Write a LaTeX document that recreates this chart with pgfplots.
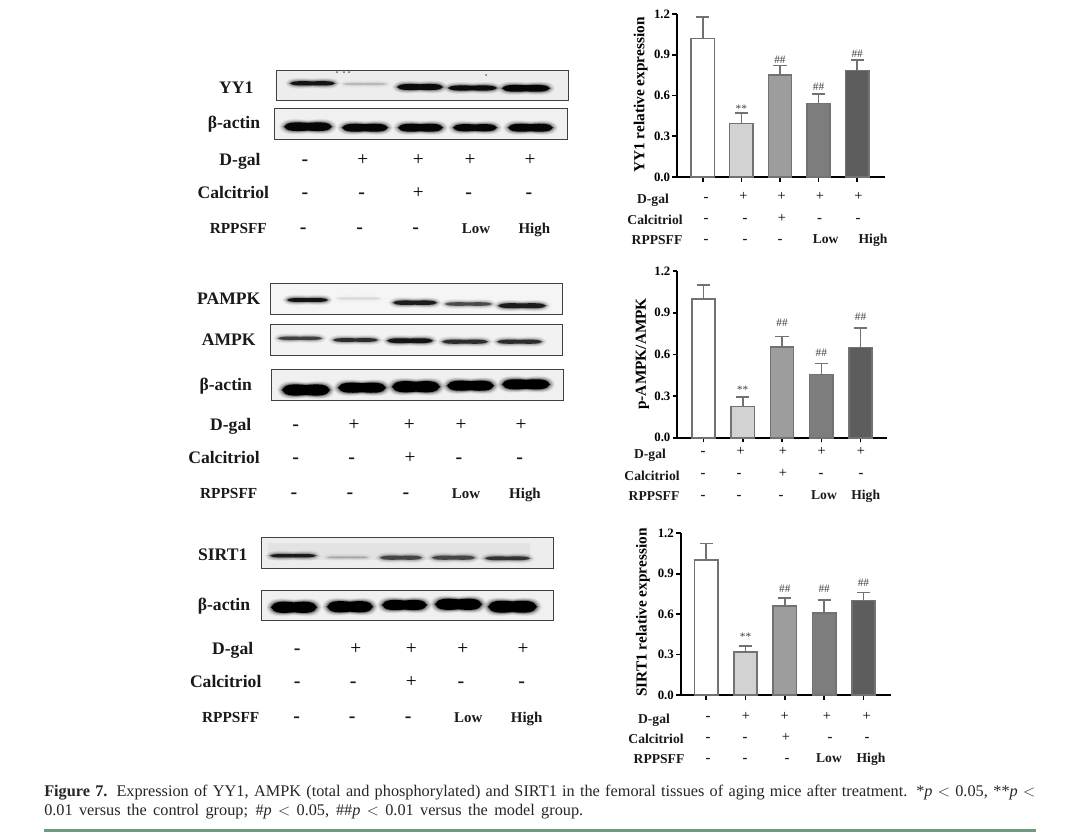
\documentclass[border=0pt]{standalone}
\usepackage{pgfplots}
\pgfplotsset{compat=1.18}
\usepackage{fontspec}
\setmainfont{Liberation Serif}

\definecolor{barline}{HTML}{727272}
\definecolor{gA}{HTML}{FFFFFF}
\definecolor{gB}{HTML}{D2D2D2}
\definecolor{gC}{HTML}{9D9D9D}
\definecolor{gD}{HTML}{7D7D7D}
\definecolor{gE}{HTML}{5D5D5D}
\definecolor{rulegreen}{HTML}{6F9A7F}

\newcommand{\fs}[1]{\fontsize{#1}{#1}\selectfont}

% one bar with its upper error bar
\newcommand{\gbar}[4]{%
  \addplot[ybar, bar width=17.5pt, bar shift=0pt, fill=#1, draw=barline, line width=1.2pt,
    error bars/.cd, y dir=plus, y explicit,
    error bar style={draw=barline, line width=1.2pt},
    error mark options={rotate=90, mark size=4.9pt, draw=barline, line width=1.2pt}]
    coordinates {(#2,#3) +- (0,#4)};}

\pgfplotsset{gelbars/.style={
    scale only axis, width=156pt,
    ymin=0, ymax=1.2, ytick={0,0.3,0.6,0.9,1.2},
    xtick={0,1,2,3,4}, xticklabels={},
    axis x line=bottom, axis y line=left,
    axis line style={-, line width=1.4pt},
    tick align=outside, major tick length=3.5pt,
    tick style={black, line width=1.2pt},
    clip=false,
    yticklabel style={font=\fs{9.6}\bfseries, inner sep=1.5pt,
      /pgf/number format/fixed, /pgf/number format/fixed zerofill, /pgf/number format/precision=1,
      /pgf/number format/assume math mode=true},
  },
  ylab/.style 2 args={every axis y label/.style={at={(axis description cs:#1,#2)}, rotate=90, anchor=center, font=\fs{11.5}\bfseries}},
}

% western blot band: x1 x2 y halfheight opacity
\newcommand{\band}[5]{%
  \foreach \e/\op in {5/0.05,4/0.07,3/0.10,2/0.15,1/0.25,0/1}{%
    \pgfmathsetmacro{\xa}{#1-\e}
    \pgfmathsetmacro{\xb}{#2+\e}
    \pgfmathsetmacro{\xm}{(#1+#2)/2}
    \pgfmathsetmacro{\w}{(#2-#1)}
    \pgfmathsetmacro{\hh}{#4+\e*0.75}
    \pgfmathsetmacro{\opp}{\op*#5}
    \fill[black, opacity=\opp] (\xa,#3)
      .. controls (\xa+0.05*\w,#3-\hh) and (\xa+0.25*\w,#3-\hh) .. (\xm,#3-0.8*\hh)
      .. controls (\xb-0.25*\w,#3-\hh) and (\xb-0.05*\w,#3-\hh) .. (\xb,#3)
      .. controls (\xb-0.05*\w,#3+\hh) and (\xb-0.25*\w,#3+\hh) .. (\xm,#3+0.8*\hh)
      .. controls (\xa+0.25*\w,#3+\hh) and (\xa+0.05*\w,#3+\hh) .. (\xa,#3) -- cycle;
  }}
\newcommand{\panel}[5]{\fill[#5] (#1,#2) rectangle (#3,#4);}
\newcommand{\frameit}[4]{\draw[black!75, line width=0.7pt] (#1,#2) rectangle (#3,#4);}

\begin{document}
\begin{tikzpicture}[x=0.75pt,y=-0.75pt]
\path[use as bounding box, fill=white] (0,0) rectangle (1080,833);

% ---- blots ----
\panel{276}{70}{568}{100.7}{black!7}
\fill[black!60] (337,72) circle (1) (344,72) circle (1) (349,72) circle (1) (486,75) circle (1);
\band{290}{335}{83.3}{2.4}{0.85}
\band{343}{387}{84}{1.2}{0.14}
\band{397}{443}{87}{3.4}{0.9}
\band{448}{497}{88}{2.9}{0.9}
\band{502}{550}{88.3}{3.8}{0.95}
\frameit{276}{70}{568}{100.7}
\panel{274}{108}{567}{139}{black!6}
\band{284}{332}{126.7}{4.8}{0.95}
\band{342}{388}{127.7}{4.4}{0.95}
\band{398}{443}{127.7}{4.4}{0.95}
\band{453}{497}{127.7}{4.0}{0.95}
\band{508}{553}{127.7}{4.4}{0.95}
\frameit{274}{108}{567}{139}

\panel{270}{283}{562}{314}{black!4}
\band{287}{328}{300}{2.2}{0.85}
\band{337}{380}{298.5}{1.0}{0.08}
\band{393}{437}{302.7}{2.5}{0.8}
\band{445}{492}{304}{2.0}{0.55}
\band{498}{546}{305.7}{2.8}{0.8}
\frameit{270}{283}{562}{314}
\panel{270}{324}{562}{355}{black!5}
\band{278}{322}{338.3}{1.9}{0.6}
\band{333}{378}{340}{2.1}{0.7}
\band{387}{433}{340.7}{2.7}{0.85}
\band{442}{488}{341.7}{2.3}{0.7}
\band{497}{542}{341.7}{2.3}{0.7}
\frameit{270}{324}{562}{355}
\panel{271}{369}{563}{400}{black!6}
\band{282}{330}{390}{6.2}{1}
\band{338}{386}{387.7}{5.6}{1}
\band{392}{440}{386.7}{6.2}{1}
\band{447}{494}{385.7}{5.6}{1}
\band{502}{550}{384.3}{5.6}{1}
\frameit{271}{369}{563}{400}

\panel{261}{537.3}{553}{568}{black!7}
\fill[black, opacity=0.04] (268,543) rectangle (530,560);
\band{270}{316}{555.7}{1.9}{0.8}
\band{327}{368}{557.3}{0.9}{0.18}
\band{380}{422}{557.7}{2.3}{0.55}
\band{432}{475}{557.7}{2.3}{0.55}
\band{485}{530}{558.3}{2.1}{0.65}
\frameit{261}{537.3}{553}{568}
\panel{261}{590}{553.7}{620.3}{black!6}
\band{271}{317}{607.3}{6.2}{1}
\band{327}{373}{606.7}{6.2}{1}
\band{382}{427}{605}{5.6}{1}
\band{435}{482}{604.3}{6.2}{1}
\band{488}{537}{606.7}{6.6}{1}
\frameit{261}{590}{553.7}{620.3}

% ---- blot labels ----
\begin{scope}[every node/.style={inner sep=0pt, text height=8.7pt, text depth=0pt, font=\fs{13.2}\bfseries, text=black!90}]
\node at (236.3,87.3) {YY1};
\node at (234,123) {β-actin};
\node at (240,160) {D-gal};
\node at (233.3,193) {Calcitriol};
\node[font=\fs{11.5}\bfseries] at (238.3,227.7) {RPPSFF};
\node at (228.7,299) {PAMPK};
\node at (228.7,340) {AMPK};
\node at (225.7,385) {β-actin};
\node at (230.7,425) {D-gal};
\node at (224,457.3) {Calcitriol};
\node[font=\fs{11.5}\bfseries] at (228.7,492.3) {RPPSFF};
\node at (222.7,555) {SIRT1};
\node at (224,605) {β-actin};
\node at (232.7,649) {D-gal};
\node at (225.7,681.7) {Calcitriol};
\node[font=\fs{11.5}\bfseries] at (230.7,716.7) {RPPSFF};
% signs and doses
\foreach \x/\y/\t in {305/160/-,305/193/-,361.7/193/-,468.7/193/-,529/193/-,
    303.3/227.7/-,359.7/227.7/-,415.7/227.7/-,
    295.7/425/-,295.7/457.3/-,351.7/457.3/-,459/457.3/-,519.7/457.3/-,
    294/492.3/-,350/492.3/-,406/492.3/-,
    297.3/649/-,297.3/681.7/-,353.3/681.7/-,461/681.7/-,521.7/681.7/-,
    296.7/716.7/-,352.3/716.7/-,408.3/716.7/-}
  \node[font=\fs{15}\bfseries] at (\x,\y) {\t};
\foreach \x/\y in {362.7/160,418.3/160,470/160,530/160,418.3/193,
    354/425,409.3/425,461/425,521/425,410/457.3,
    355.7/649,411.3/649,462.7/649,523/649,411.3/681.7}
  \node[font=\fs{14.5}, text=black] at (\x,\y) {+};
\foreach \x/\y/\t in {476/227.7/Low,534.3/227.7/High,466/492.3/Low,525/492.3/High,468.3/716.7/Low,526.7/716.7/High}
  \node[font=\fs{11.2}\bfseries] at (\x,\y) {\t};
\end{scope}

% ---- bar charts ----
\coordinate (a1) at (677,177);
\coordinate (a2) at (677.3,437.7);
\coordinate (a3) at (680.7,695);

\begin{axis}[gelbars, at={(a1)}, height=122.25pt,
    anchor=south west, xmin=-0.666, xmax=4.72,
    ylabel={YY1 relative expression}, ylab={-0.175}{0.503}]
\gbar{gA}{0}{1.02}{0.16}
\gbar{gB}{1}{0.395}{0.075}
\gbar{gC}{2}{0.75}{0.07}
\gbar{gD}{3}{0.54}{0.07}
\gbar{gE}{4}{0.785}{0.075}
\begin{scope}[every node/.style={font=\fs{8.5}, text=black!75, inner sep=0pt}]
\node at (axis cs:1,0.50) {**};
\node at (axis cs:2,0.861) {\#\#};
\node at (axis cs:3,0.663) {\#\#};
\node at (axis cs:4,0.906) {\#\#};
\end{scope}
\end{axis}

\begin{axis}[gelbars, at={(a2)}, height=125pt,
    anchor=south west, width=157.2pt, xmin=-0.665, xmax=4.67,
    ylabel={p-AMPK/AMPK}, ylab={-0.166}{0.503}]
\gbar{gA}{0}{1.0}{0.10}
\gbar{gB}{1}{0.225}{0.07}
\gbar{gC}{2}{0.655}{0.075}
\gbar{gD}{3}{0.455}{0.08}
\gbar{gE}{4}{0.65}{0.14}
\begin{scope}[every node/.style={font=\fs{8.5}, text=black!75, inner sep=0pt}]
\node at (axis cs:1,0.348) {**};
\node at (axis cs:2,0.826) {\#\#};
\node at (axis cs:3,0.61) {\#\#};
\node at (axis cs:4,0.869) {\#\#};
\end{scope}
\end{axis}

\begin{axis}[gelbars, at={(a3)}, height=121.3pt,
    anchor=south west, width=157.7pt, xmin=-0.65, xmax=4.7,
    ylabel={SIRT1 relative expression}, ylab={-0.180}{0.51}]
\gbar{gA}{0}{1.0}{0.125}
\gbar{gB}{1}{0.32}{0.045}
\gbar{gC}{2}{0.66}{0.06}
\gbar{gD}{3}{0.61}{0.095}
\gbar{gE}{4}{0.70}{0.06}
\begin{scope}[every node/.style={font=\fs{8.5}, text=black!75, inner sep=0pt}]
\node at (axis cs:1,0.433) {**};
\node at (axis cs:2,0.787) {\#\#};
\node at (axis cs:3,0.787) {\#\#};
\node at (axis cs:4,0.831) {\#\#};
\end{scope}
\end{axis}

% ---- rows under the bar charts ----
\begin{scope}[every node/.style={inner sep=0pt, text height=6.7pt, text depth=0pt, font=\fs{10.2}\bfseries, text=black!90}]
\node at (653,199) {D-gal};
\node at (655,220) {Calcitriol};
\node at (657,240) {RPPSFF};
\node at (650,454) {D-gal};
\node at (652,475.7) {Calcitriol};
\node at (654,496) {RPPSFF};
\node at (654,719) {D-gal};
\node at (656,739) {Calcitriol};
\node at (659,759) {RPPSFF};
\foreach \x/\y in {706/197,706/218,745/218,819.5/218,858/218,706/239,745/239,780/239,
    703/451,703/473,739/473,821/473,861/473,703/495,739/495,781/495,
    708/716,708/737,745/737,830/737,867/737,708/758,745/758,787/758}
  \node[font=\fs{11}\bfseries] at (\x,\y) {-};
\foreach \x/\y in {743.3/196,781.7/196,820/196,858.3/196,782/218,
    740.7/451,783/451,821.7/451,861/451,783/473,
    746/716,784.7/716,827/716,866.7/716,786/737}
  \node[font=\fs{10.8}, text=black] at (\x,\y) {+};
\foreach \x/\y/\t in {825.7/239/Low,873/239/High,824/495/Low,865.7/495/High,829/758/Low,871/758/High}
  \node at (\x,\y) {\t};
\end{scope}

% ---- caption ----
\node[anchor=base west, inner sep=0pt, font=\fs{12.2}, text=black!85] at (44,796)
  {\makebox[743.25pt][s]{\textbf{Figure 7.} Expression of YY1, AMPK (total and phosphorylated) and SIRT1 in the femoral tissues of aging mice after treatment. *\textit{p} $<$ 0.05, **\textit{p} $<$}};
\node[anchor=base west, inner sep=0pt, font=\fs{12.2}, text=black!85] at (44,815)
  {\makebox[404.25pt][s]{0.01 versus the control group; \#\textit{p} $<$ 0.05, \#\#\textit{p} $<$ 0.01 versus the model group.}};
\draw[rulegreen, line width=1.6pt] (44,830.5) -- (1036,830.5);
\end{tikzpicture}
\end{document}
